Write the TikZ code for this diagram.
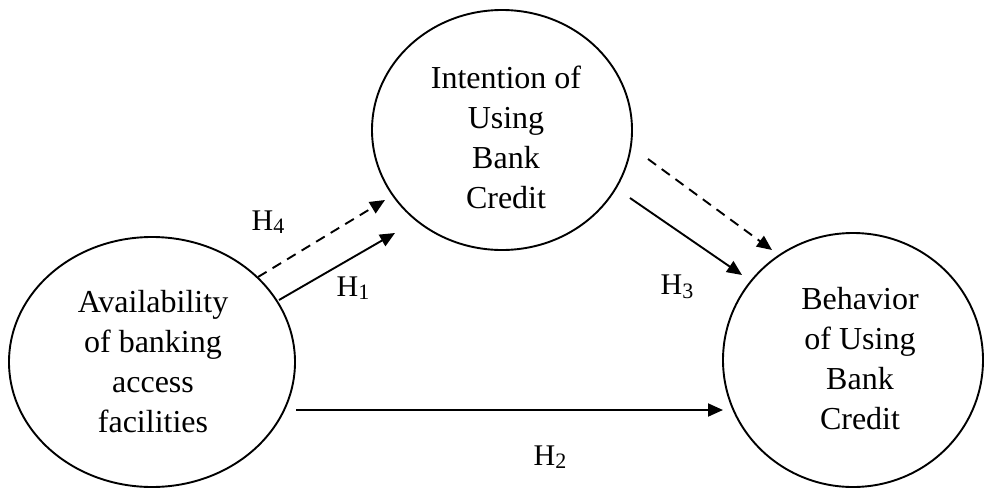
\documentclass[tikz,border=0pt]{standalone}
\usepackage{fontspec}
\setmainfont{Liberation Serif}
\usetikzlibrary{shapes.geometric,arrows.meta}
\newcommand{\hyp}[1]{H\raisebox{-3.5pt}{\fontsize{22}{22}\selectfont #1}}
\tikzset{
  construct/.style={ellipse, draw, line width=1.9pt, inner sep=0pt},
  ctext/.style={align=center, inner sep=0pt, font=\fontsize{32}{40}\selectfont},
  link/.style={line width=1.9pt, -{Triangle[length=15pt,width=13pt]}},
  linkdash/.style={link, dash pattern=on 10pt off 7pt},
  hlabel/.style={font=\fontsize{30}{30}\selectfont, inner sep=0pt}
}
\begin{document}
\begin{tikzpicture}[x=1pt,y=-1pt]
\useasboundingbox (0,0) rectangle (985,488);
\node[construct, minimum width=286pt, minimum height=250pt] (avail) at (152,362) {};
\node[construct, minimum width=260pt, minimum height=240pt] (intent) at (502,130) {};
\node[construct, minimum width=260pt, minimum height=254pt] (behav) at (853,360) {};

\node[ctext] (availtxt) at (153,362) {Availability\\of banking\\access\\facilities};
\node[ctext] (intenttxt) at (506,137) {Intention of\\Using\\Bank\\Credit};
\node[ctext] (behavtxt) at (860,359) {Behavior\\of Using\\Bank\\Credit};

\coordinate (h1s) at (279,300);
\coordinate (h1e) at (395,233);
\coordinate (h4s) at (258,277);
\coordinate (h4e) at (385,200);
\coordinate (h3s) at (630,198);
\coordinate (h3e) at (742,275);
\coordinate (h5s) at (648,159);
\coordinate (h5e) at (772,250);
\coordinate (h2s) at (296,410);
\coordinate (h2e) at (723,410);

\draw[link] (h1s) -- (h1e);
\draw[linkdash] (h4s) -- (h4e);
\draw[link] (h3s) -- (h3e);
\draw[linkdash] (h5s) -- (h5e);
\draw[link] (h2s) -- (h2e);

\node[hlabel] (l4) at (268,222) {\hyp{4}};
\node[hlabel] (l1) at (353,288) {\hyp{1}};
\node[hlabel] (l3) at (677,287) {\hyp{3}};
\node[hlabel] (l2) at (550,457) {\hyp{2}};
\end{tikzpicture}
\end{document}
